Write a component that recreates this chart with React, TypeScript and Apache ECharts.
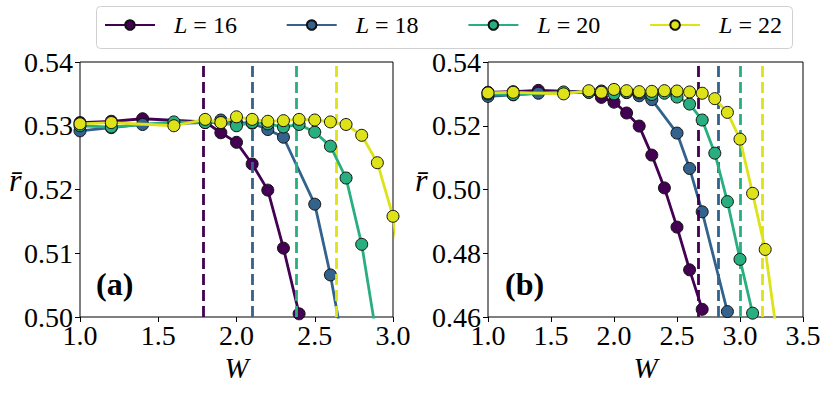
import React, { useEffect, useRef } from "react";
import * as echarts from "echarts";

const SIZES = [16, 18, 20, 22];
const COLORS = ["#440154", "#33638d", "#29af7f", "#dde318"];

const W16 = [1.0, 1.2, 1.4, 1.8, 1.9, 2.0, 2.1, 2.2, 2.3, 2.4, 2.5, 2.6, 2.7];
const R16 = [0.5305, 0.5307, 0.5311, 0.5306, 0.5289, 0.5274, 0.524, 0.5199, 0.5108, 0.5005, 0.4882, 0.4748, 0.4624];
const W18 = [1.0, 1.2, 1.4, 1.8, 1.9, 2.0, 2.1, 2.2, 2.3, 2.5, 2.6, 2.7, 2.9];
const R18 = [0.5292, 0.5297, 0.5302, 0.5305, 0.5309, 0.5305, 0.5304, 0.5294, 0.5282, 0.5177, 0.5066, 0.493, 0.4617];
const W20 = [1.0, 1.2, 1.6, 1.8, 1.9, 2.0, 2.1, 2.2, 2.3, 2.4, 2.5, 2.6, 2.7, 2.8, 2.9, 3.0, 3.1];
const R20 = [0.53, 0.5298, 0.5306, 0.5305, 0.5305, 0.53, 0.5305, 0.5303, 0.5298, 0.5302, 0.529, 0.5268, 0.5218, 0.5114, 0.4962, 0.4781, 0.4612];
const W22 = [1.0, 1.2, 1.6, 1.8, 1.9, 2.0, 2.1, 2.2, 2.3, 2.4, 2.5, 2.6, 2.7, 2.8, 2.9, 3.0, 3.1, 3.2, 3.3];
const R22 = [0.5303, 0.5305, 0.53, 0.531, 0.5305, 0.5314, 0.531, 0.5307, 0.5308, 0.531, 0.5309, 0.5306, 0.5302, 0.5285, 0.5242, 0.5158, 0.4988, 0.4812, 0.4525];

// critical disorder (dashed lines) for panels (a) and (b)
const WC_A = [1.79, 2.105, 2.385, 2.64];
const WC_B = [2.665, 2.835, 3.0, 3.18];

const WS = [W16, W18, W20, W22];
const RS = [R16, R18, R20, R22];

const FONT = "'Liberation Serif', 'DejaVu Serif', serif";

export default function App() {
  const ref = useRef<HTMLDivElement>(null);
  useEffect(() => {
    document.body.style.margin = "0";
    const chart = echarts.init(ref.current!, null, { renderer: "svg" });
    const grids = [
      { left: 80, top: 62, width: 313, height: 255 },
      { left: 488, top: 62, width: 315, height: 255 },
    ];
    const xRanges = [
      [1, 3],
      [1, 3.5],
    ];
    const yRanges = [
      [0.5, 0.54, 0.01],
      [0.46, 0.54, 0.02],
    ];
    const series: any[] = [];
    [0, 1].forEach((p) => {
      const wc = p === 0 ? WC_A : WC_B;
      SIZES.forEach((L, i) => {
        series.push({
          type: "line",
          name: "crit" + p + i,
          xAxisIndex: p,
          yAxisIndex: p,
          data: [],
          z: 1,
          markLine: {
            silent: true,
            symbol: ["none", "none"],
            label: { show: false },
            lineStyle: { color: COLORS[i], type: [11, 5], width: 2.8 },
            data: [{ xAxis: wc[i] }],
          },
        });
      });
      SIZES.forEach((L, i) => {
        series.push({
          type: "line",
          name: `L = ${L}`,
          xAxisIndex: p,
          yAxisIndex: p,
          data: WS[i].map((w, k) => [w, RS[i][k]]),
          symbol: "circle",
          symbolSize: 12,
          clip: true,
          z: 3 + i,
          itemStyle: { color: COLORS[i], borderColor: "#111", borderWidth: 1 },
          lineStyle: { color: COLORS[i], width: 2.8 },
        });
      });
    });

    const legends = SIZES.map((L, i) => ({
      data: [`L = ${L}`],
      left: 104 + 181.7 * i,
      top: 13,
      padding: 0,
      itemWidth: 50,
      itemHeight: 12,
      selectedMode: false,
      formatter: (n: string) => `{i|L} = ${n.split("= ")[1]}`,
      textStyle: {
        fontFamily: FONT,
        fontSize: 24,
        color: "#000",
        rich: {
          i: { fontFamily: FONT, fontStyle: "italic", fontSize: 24, color: "#000", padding: [0, 0, 0, 14] },
        },
      },
    }));

    chart.setOption({
      animation: false,
      backgroundColor: "#fff",
      grid: grids.map((g) => ({ ...g, show: true, borderColor: "#000", borderWidth: 1, backgroundColor: "transparent" })),
      xAxis: [0, 1].map((p) => ({
        type: "value",
        gridIndex: p,
        min: xRanges[p][0],
        max: xRanges[p][1],
        interval: 0.5,
        name: "W",
        nameLocation: "middle",
        nameGap: 33,
        nameTextStyle: { fontFamily: FONT, fontStyle: "italic", fontSize: 29, color: "#000" },
        axisLine: { show: false },
        axisTick: { show: true, length: 5, lineStyle: { color: "#000" } },
        splitLine: { show: false },
        axisLabel: {
          fontFamily: FONT,
          fontSize: 28,
          color: "#000",
          margin: 4,
          showMinLabel: true,
          showMaxLabel: true,
          formatter: (v: number) => v.toFixed(1),
        },
      })),
      yAxis: [0, 1].map((p) => ({
        type: "value",
        gridIndex: p,
        min: yRanges[p][0],
        max: yRanges[p][1],
        interval: yRanges[p][2],
        axisLine: { show: false },
        axisTick: { show: true, length: 5, lineStyle: { color: "#000" } },
        splitLine: { show: false },
        axisLabel: {
          fontFamily: FONT,
          fontSize: 28,
          color: "#000",
          margin: 7,
          showMinLabel: true,
          showMaxLabel: true,
          formatter: (v: number) => v.toFixed(2),
        },
      })),
      legend: legends,
      series,
      graphic: [
        {
          type: "rect",
          shape: { x: 96.5, y: 6.5, width: 696, height: 42, r: 4 },
          style: { fill: "#fff", stroke: "#d0d0d0", lineWidth: 1 },
          z: -1,
        },
        {
          type: "text",
          x: 96,
          y: 284,
          style: { text: "(a)", font: `bold 32px ${FONT}`, fill: "#000", verticalAlign: "middle" },
        },
        {
          type: "text",
          x: 505,
          y: 284,
          style: { text: "(b)", font: `bold 32px ${FONT}`, fill: "#000", verticalAlign: "middle" },
        },
        {
          type: "text",
          x: 9,
          y: 180,
          style: { text: "r\u0304", font: `italic 32px ${FONT}`, fill: "#000", verticalAlign: "middle" },
        },
        {
          type: "text",
          x: 415,
          y: 180,
          style: { text: "r\u0304", font: `italic 32px ${FONT}`, fill: "#000", verticalAlign: "middle" },
        },
      ],
    });
    return () => chart.dispose();
  }, []);
  return <div ref={ref} style={{ width: 830, height: 395 }} />;
}
